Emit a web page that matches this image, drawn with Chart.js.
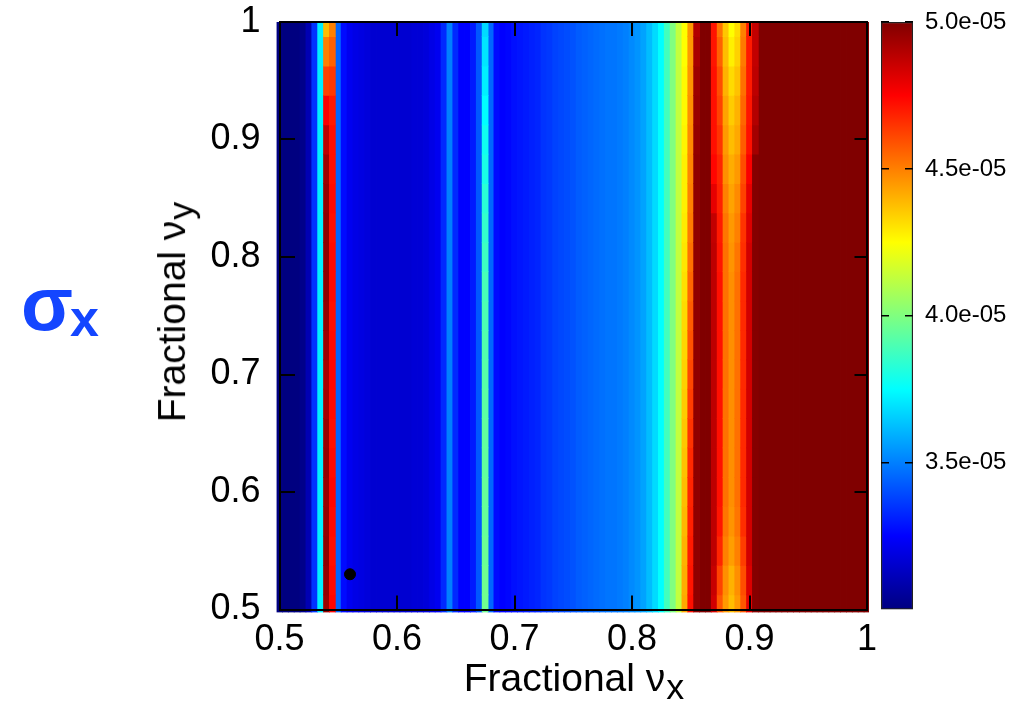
<!DOCTYPE html>
<html><head><meta charset="utf-8">
<script src="https://cdn.jsdelivr.net/npm/chart.js@4.4.1/dist/chart.umd.min.js"></script>
<style>
html,body{margin:0;padding:0;background:#fff;}
#wrap{position:relative;width:1028px;height:703px;overflow:hidden;font-family:'Liberation Sans',Arial,Helvetica,sans-serif;}
canvas{position:absolute;}
#main{left:0;top:0;}
#cbar{left:870px;top:0;}
.lbl{position:absolute;white-space:nowrap;line-height:1;color:#000;}
.sub{font-size:0.92em;position:relative;top:0.22em;margin-left:1px;}
#xtitle{left:574px;top:658px;transform:translateX(-50%);font-size:39px;}
#ytitle{left:172px;top:312px;transform:translate(-50%,-50%) rotate(-90deg);font-size:39px;}
#sigma{left:21px;top:266px;font-size:76px;font-weight:bold;color:#1446ff;}
#sigma span{font-size:52px;position:relative;top:6px;margin-left:-3px;}
</style></head><body>
<div id="wrap">
<canvas id="main" width="1028" height="703"></canvas>
<canvas id="cbar" width="158" height="703"></canvas>
<div class="lbl" id="xtitle">Fractional ν<span class="sub">x</span></div>
<div class="lbl" id="ytitle">Fractional ν<span class="sub">y</span></div>
<div class="lbl" id="sigma">σ<span>x</span></div>
</div>
<script>
// ---- data (sigma_x in units of 1e-5) ----
const nuX = [0.5,0.505,0.51,0.515,0.52,0.525,0.53,0.535,0.54,0.545,
  0.55,0.555,0.56,0.565,0.57,0.575,0.58,0.585,0.59,0.595,
  0.6,0.605,0.61,0.615,0.62,0.625,0.63,0.635,0.64,0.645,
  0.65,0.655,0.66,0.665,0.67,0.675,0.68,0.685,0.69,0.695,
  0.7,0.705,0.71,0.715,0.72,0.725,0.73,0.735,0.74,0.745,
  0.75,0.755,0.76,0.765,0.77,0.775,0.78,0.785,0.79,0.795,
  0.8,0.805,0.81,0.815,0.82,0.825,0.83,0.835,0.84,0.845,
  0.85,0.855,0.86,0.865,0.87,0.875,0.88,0.885,0.89,0.895,
  0.9,0.905,0.91,0.915,0.92,0.925,0.93,0.935,0.94,0.945,
  0.95,0.955,0.96,0.965,0.97,0.975,0.98,0.985,0.99,0.995,1.0];
const sigmaX_1e5 = [3.00,3.00,3.00,3.00,3.02,3.10,3.35,3.72,4.96,4.73,
  3.45,3.27,3.22,3.20,3.19,3.18,3.16,3.16,3.16,3.16,
  3.16,3.16,3.16,3.17,3.17,3.18,3.20,3.22,3.33,3.50,
  3.33,3.25,3.25,3.30,3.42,3.88,3.45,3.27,3.25,3.26,
  3.28,3.29,3.30,3.31,3.32,3.35,3.36,3.38,3.39,3.40,
  3.41,3.43,3.44,3.45,3.46,3.47,3.48,3.48,3.49,3.50,
  3.52,3.54,3.57,3.62,3.68,3.75,3.88,4.00,4.13,4.33,
  4.60,4.97,5.00,5.00,4.85,4.70,4.50,4.45,4.50,4.65,
  4.82,4.99,5.00,5.00,5.00,5.00,5.00,5.00,5.00,5.00,
  5.00,5.00,5.00,5.00,5.00,5.00,5.00,5.00,5.00,5.00,5.00];
const nuYRows = [0.5,0.525,0.55,0.575,0.6,0.625,0.65,0.675,0.7,0.725,0.75,
  0.775,0.8,0.825,0.85,0.875,0.9,0.925,0.95,0.975,1.0];
// columns whose value changes along nu_y (values listed bottom -> top, at nuYRows)
const varyingNuX = [0.54,0.545,0.675,0.845,0.85,0.855,0.87,0.875,0.88,0.885,0.89,0.895,0.9,0.905];
const col0540 = [4.95,4.96,4.97,4.96,4.95,4.96,4.95,4.93,4.92,4.94,4.96,4.97,4.97,4.97,4.96,4.94,4.88,4.76,4.62,4.50,4.38];
const col0545 = [4.74,4.73,4.72,4.73,4.74,4.73,4.72,4.73,4.74,4.73,4.72,4.73,4.73,4.72,4.73,4.72,4.72,4.70,4.64,4.56,4.50];
const col0675 = [3.97,3.97,3.96,3.95,3.95,3.94,3.94,3.93,3.92,3.91,3.90,3.89,3.87,3.85,3.83,3.80,3.78,3.75,3.72,3.70,3.68];
const col0845 = [4.42,4.41,4.40,4.39,4.38,4.37,4.36,4.35,4.34,4.33,4.32,4.31,4.30,4.29,4.28,4.28,4.27,4.26,4.26,4.25,4.25];
const col0850 = [4.72,4.71,4.70,4.69,4.68,4.67,4.65,4.63,4.61,4.59,4.57,4.55,4.53,4.51,4.50,4.49,4.48,4.47,4.46,4.45,4.45];
const col0855 = [4.97,4.97,4.97,4.97,4.97,4.97,4.97,4.97,4.97,4.97,4.97,4.97,4.97,4.97,4.97,4.97,4.96,4.95,4.94,4.92,4.90];
const col0870 = [4.84,4.86,4.88,4.88,4.88,4.88,4.88,4.88,4.88,4.88,4.88,4.88,4.88,4.87,4.80,4.74,4.72,4.72,4.72,4.71,4.71];
const col0875 = [4.58,4.62,4.68,4.71,4.72,4.72,4.72,4.72,4.72,4.72,4.72,4.72,4.71,4.70,4.69,4.68,4.65,4.62,4.60,4.56,4.52];
const col0880 = [4.45,4.47,4.50,4.52,4.53,4.53,4.53,4.53,4.53,4.53,4.53,4.53,4.53,4.52,4.50,4.47,4.45,4.43,4.40,4.38,4.36];
const col0885 = [4.38,4.40,4.44,4.46,4.47,4.47,4.47,4.47,4.47,4.47,4.47,4.47,4.46,4.45,4.43,4.41,4.38,4.35,4.32,4.28,4.25];
const col0890 = [4.45,4.47,4.50,4.52,4.53,4.53,4.53,4.53,4.53,4.53,4.53,4.53,4.52,4.50,4.48,4.45,4.42,4.40,4.37,4.34,4.32];
const col0895 = [4.58,4.60,4.63,4.66,4.67,4.67,4.67,4.67,4.67,4.67,4.67,4.67,4.66,4.65,4.62,4.60,4.57,4.55,4.53,4.51,4.50];
const col0900 = [4.80,4.82,4.84,4.84,4.84,4.84,4.84,4.84,4.84,4.84,4.84,4.84,4.84,4.82,4.80,4.76,4.72,4.71,4.70,4.70,4.70];
const col0905 = [4.99,4.99,4.99,4.99,4.99,4.99,4.99,4.99,4.99,4.99,4.99,4.99,4.99,4.99,4.99,4.99,4.93,4.90,4.88,4.87,4.87];
const varyingCols = [col0540,col0545,col0675,col0845,col0850,col0855,col0870,col0875,col0880,col0885,col0890,col0895,col0900,col0905];
const markerNuX = [0.56];
const markerNuY = [0.53];
const xTickValues = [0.5,0.6,0.7,0.8,0.9,1.0];
const xTickLabels = ['0.5','0.6','0.7','0.8','0.9','1'];
const yTickValues = [0.5,0.6,0.7,0.8,0.9,1.0];
const yTickLabels = ['0.5','0.6','0.7','0.8','0.9','1'];
const cbTickValues = [3.5,4.0,4.5,5.0];
const cbTickLabels = ['3.5e-05','4.0e-05','4.5e-05','5.0e-05'];
const cbMin = 3.0, cbMax = 5.0;

// ---- colour map (jet) ----
const jetStops = [[0,[0,0,128]],[0.125,[0,0,255]],[0.375,[0,255,255]],[0.625,[255,255,0]],[0.875,[255,0,0]],[1,[128,0,0]]];
function jet(v){
  let t=(v-cbMin)/(cbMax-cbMin); t=Math.max(0,Math.min(1,t));
  for(let k=1;k<jetStops.length;k++){
    if(t<=jetStops[k][0]){
      const [t0,c0]=jetStops[k-1],[t1,c1]=jetStops[k];
      const f=(t-t0)/(t1-t0);
      return 'rgb('+c0.map((c,j)=>Math.round(c+(c1[j]-c)*f)).join(',')+')';
    }
  }
  return 'rgb(128,0,0)';
}

const FONT = "'Liberation Sans', Arial, Helvetica, sans-serif";
const halfCell = 0.0025, halfRow = 0.0125;

const baseData = [];
nuX.forEach((x,i)=>{ if(!varyingNuX.includes(x)) baseData.push({x:x, y:[0.5-halfCell,1.0], v:sigmaX_1e5[i]}); });
const cellData = [];
varyingNuX.forEach((x,c)=>{
  varyingCols[c].forEach((v,k)=>{
    const y=nuYRows[k];
    cellData.push({x:x, y:[Math.max(0.5-halfCell,y-halfRow), y+halfRow], v:v});
  });
});

const barCommon = {type:'bar', borderWidth:0, grouped:false, categoryPercentage:1, barPercentage:1,
  inflateAmount:0.4, clip:{left:3,right:2,top:0,bottom:3},
  backgroundColor:(c)=> c.raw ? jet(c.raw.v) : '#000'};

function noPad(s){ s.paddingTop=0; s.paddingBottom=0; s.paddingLeft=0; s.paddingRight=0; }

new Chart(document.getElementById('main'), {
  type:'bar',
  data:{datasets:[
    Object.assign({label:'sigma_x columns', data:baseData, order:2}, barCommon),
    Object.assign({label:'sigma_x cells', data:cellData, order:1}, barCommon),
    {type:'scatter', label:'working point', data:markerNuX.map((x,i)=>({x:x,y:markerNuY[i]})),
     pointRadius:5.5, backgroundColor:'#000', borderColor:'#000', order:0}
  ]},
  options:{
    responsive:false, animation:false,
    layout:{padding:{left:0,top:22,right:161,bottom:0}},
    plugins:{legend:{display:false}, tooltip:{enabled:false}},
    scales:{
      x:{type:'linear', position:'bottom', min:0.5, max:1.0, offset:false,
        afterFit:(s)=>{s.height=93.5; noPad(s);},
        afterBuildTicks:(s)=>{s.ticks=xTickValues.map(v=>({value:v}));},
        ticks:{callback:(v,i)=>xTickLabels[i], font:{family:FONT,size:36,lineHeight:1}, color:'#000', padding:13, maxRotation:0, autoSkip:false, z:2},
        grid:{color:'#000', lineWidth:2, drawTicks:false, drawOnChartArea:true, offset:false, z:1},
        border:{display:true, color:'#000', width:2, dash:[14,559.5], z:2}},
      y:{type:'linear', position:'left', min:0.5, max:1.0,
        afterFit:(s)=>{s.width=279.5; noPad(s);},
        afterBuildTicks:(s)=>{s.ticks=yTickValues.map(v=>({value:v}));},
        ticks:{callback:(v,i)=>yTickLabels[i], font:{family:FONT,size:36,lineHeight:1}, color:'#000', padding:19, autoSkip:false, z:2},
        grid:{color:'#000', lineWidth:2, drawTicks:false, drawOnChartArea:true, z:1},
        border:{display:true, color:'#000', width:2, dash:[14,559.5], z:2}},
      x2:{type:'linear', position:'top', min:0.5, max:1.0,
        afterFit:(s)=>{s.height=0; noPad(s);},
        ticks:{display:false}, grid:{display:false, drawTicks:false},
        border:{display:true, color:'#000', width:2, z:2}},
      y2:{type:'linear', position:'right', min:0.5, max:1.0,
        afterFit:(s)=>{s.width=0; noPad(s);},
        ticks:{display:false}, grid:{display:false, drawTicks:false},
        border:{display:true, color:'#000', width:2, z:2}}
    }
  }
});

// ---- colour bar ----
const cbCategory = ['sigma_x'];
new Chart(document.getElementById('cbar'), {
  type:'bar',
  data:{labels:cbCategory, datasets:[{
    data:[[cbMin,cbMax]],
    backgroundColor:(c)=>{
      const ch=c.chart; if(!ch.chartArea) return '#000080';
      const ys=ch.scales.y;
      const g=ch.ctx.createLinearGradient(0, ys.getPixelForValue(cbMin), 0, ys.getPixelForValue(cbMax));
      jetStops.forEach(([t,col])=>g.addColorStop(t,'rgb('+col.join(',')+')'));
      return g;
    },
    borderColor:'#222', borderWidth:1.5, borderSkipped:false, categoryPercentage:1, barPercentage:1
  }]},
  options:{
    responsive:false, animation:false,
    layout:{padding:{left:11,right:0,top:22,bottom:93.5}},
    plugins:{legend:{display:false}, tooltip:{enabled:false}},
    scales:{
      x:{display:false},
      y:{position:'right', min:cbMin, max:cbMax,
        afterFit:(s)=>{s.width=115; noPad(s);},
        afterBuildTicks:(s)=>{s.ticks=cbTickValues.map(v=>({value:v}));},
        ticks:{callback:(v,i)=>cbTickLabels[i], font:{family:FONT,size:24,lineHeight:1}, color:'#000', padding:12, z:2},
        grid:{color:'#000', lineWidth:1.5, drawTicks:false, drawOnChartArea:true, z:1},
        border:{display:false, dash:[8,16]}}
    }
  }
});
</script>
</body></html>
